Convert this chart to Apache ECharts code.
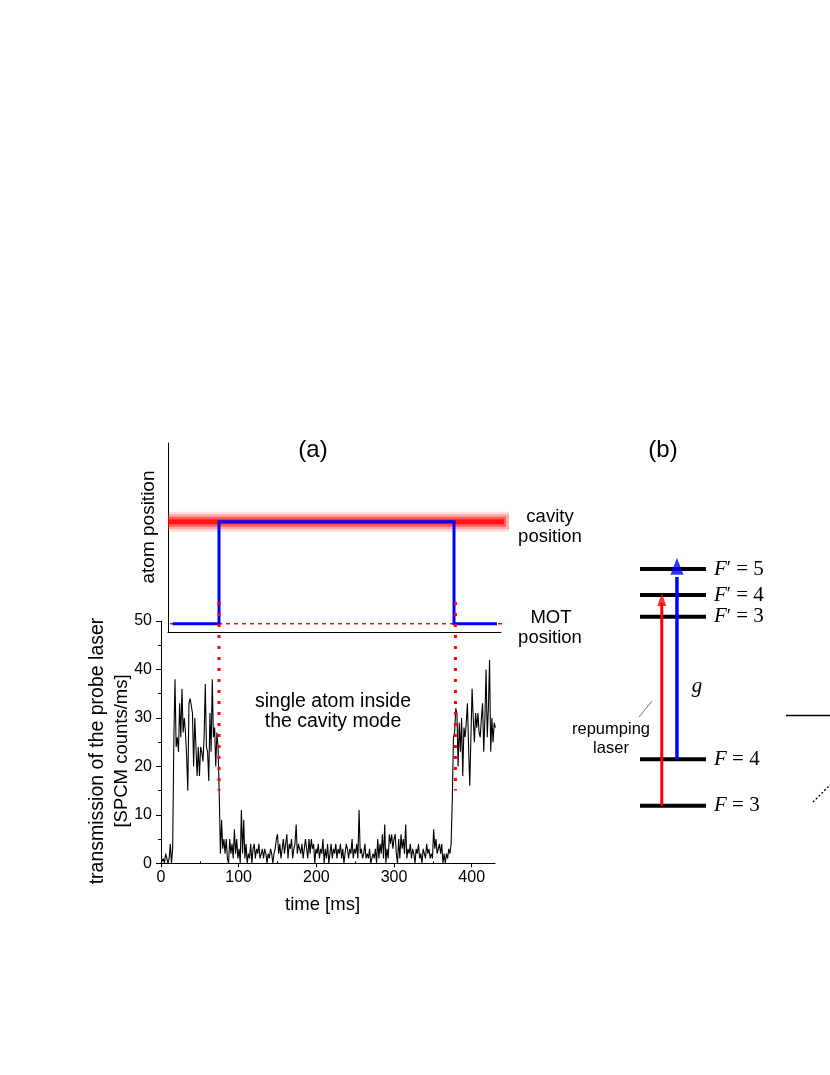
<!DOCTYPE html>
<html>
<head>
<meta charset="utf-8">
<script src="https://cdn.jsdelivr.net/npm/echarts@6/dist/echarts.min.js"></script>
<style>
html,body{margin:0;padding:0;background:#fff;}
#chart{width:830px;height:1075px;}
</style>
</head>
<body>
<div id="chart"></div>
<script>
// ---------- data ----------
// panel (a), lower plot: probe transmission sampled every timeStepMs
const timeStepMs = 1.5;
const counts = [
  0,0,1,0,2,1,0,1,4,0,
  3,25,38,24,26,23,33,26,36,27,
  30,27,22,15,33,34,34,31,20,30,
  24,18,24,18,24,23,21,26,37,24,
  23,17,31,23,38,26,28,20,27,24,
  14,2,9,3,5,2,5,1,0,5,
  2,4,1,7,2,5,1,3,0,11,
  2,9,1,4,0,2,1,4,0,3,
  4,1,3,2,4,1,2,3,1,3,
  2,0,2,1,3,2,0,2,3,5,
  6,2,4,1,3,5,2,4,6,1,
  4,3,5,1,3,4,8,2,4,3,
  2,4,1,3,5,3,1,5,2,5,
  3,4,0,3,2,4,1,3,2,5,
  0,3,1,4,0,2,4,1,3,2,
  4,1,3,2,4,1,3,0,2,4,
  3,1,3,2,5,1,3,2,4,1,
  11,2,3,1,2,4,1,2,1,3,
  0,1,2,1,3,0,5,1,4,2,
  6,1,8,0,3,1,6,4,6,3,
  5,6,2,0,5,1,6,3,5,2,
  8,1,3,2,4,1,3,2,0,3,
  2,4,1,2,0,3,2,1,4,2,
  3,1,2,1,7,3,5,2,3,4,
  2,4,0,2,0,2,1,3,2,4,
  13,26,27,32,31,20,29,23,30,18,
  28,26,29,33,24,16,26,36,30,25,
  31,28,31,27,26,30,33,23,30,40,
  26,32,42,23,30,25,29,28
];
const timeMax = 430;
const xMajorTicks = [0, 100, 200, 300, 400];
const xMinorTicks = [50, 150, 250, 350];
const yMax = 50, yStep = 10;

// panel (a), upper plot: atom position (0 = MOT position, 1 = cavity position)
const atomTimes = [15, 74.7, 74.7, 377.2, 377.2, 432.5];
const atomLevel = [0, 0, 1, 1, 0, 0];
const cavityBandTimes = [9, 448];
const motLineTimes = [1.3, 446.7];
const transitionTimes = [74.7, 379];
const transitionSpan = [53.9, 15];   // in transmission units

// panel (b): level scheme (schematic energies, arbitrary units)
const levelLabels = ['F = 3', 'F = 4', 'F′ = 3', 'F′ = 4', 'F′ = 5'];
const levelEnergy = [0, 46.4, 189, 210.7, 236.7];
// transitions: [from level index, to level index, horizontal position]
const repumpArrow = [0, 3, 0.33];
const probeArrow = [1, 4, 0.56];

// ---------- chart ----------
const SANS = '"Liberation Sans", Arial, sans-serif';
const SERIF = '"Liberation Serif", "DejaVu Serif", serif';
const chart = echarts.init(document.getElementById('chart'), null, {renderer: 'canvas'});

const series = [];

// transmission trace
series.push({
  type: 'line', xAxisIndex: 0, yAxisIndex: 0,
  data: counts.map((v, i) => [i * timeStepMs, v]),
  symbol: 'none', lineStyle: {color: '#000', width: 1.1}, z: 3, silent: true
});

// cavity band (red, blurred): layered strokes, soft edges
[[20, 'rgba(255,60,60,0.18)'], [15, 'rgba(255,40,40,0.28)'], [10, 'rgba(255,20,20,0.5)'], [5, 'rgba(255,0,0,0.75)']].forEach(s => {
  series.push({
    type: 'line', xAxisIndex: 1, yAxisIndex: 1, clip: false,
    data: cavityBandTimes.map(t => [t, 1]),
    symbol: 'none',
    lineStyle: {color: s[1], width: s[0], cap: 'butt'},
    z: 1, silent: true
  });
});
// MOT position dotted line
series.push({
  type: 'line', xAxisIndex: 1, yAxisIndex: 1, clip: false,
  data: motLineTimes.map(t => [t, 0]),
  symbol: 'none', lineStyle: {color: '#ff0000', width: 1.5, type: [4, 4]}, z: 2, silent: true
});
// atom position trace
series.push({
  type: 'line', xAxisIndex: 1, yAxisIndex: 1,
  data: atomTimes.map((t, i) => [t, atomLevel[i]]),
  symbol: 'none', lineStyle: {color: '#0000ff', width: 3, join: 'miter'}, z: 4, silent: true
});
// vertical transition markers
transitionTimes.forEach(t => {
  series.push({
    type: 'line', xAxisIndex: 0, yAxisIndex: 0, clip: false,
    data: transitionSpan.map(v => [t, v]),
    symbol: 'none', lineStyle: {color: '#ff0000', width: 3, type: [3, 8], cap: 'butt'}, z: 6, silent: true
  });
});

// level scheme
levelEnergy.forEach((e, i) => {
  const parts = levelLabels[i].split(' = ');
  const head = parts[0].replace('′', '');
  const primed = parts[0].indexOf('′') >= 0;
  series.push({
    type: 'line', xAxisIndex: 2, yAxisIndex: 2,
    data: [[0, e], [1, e]], symbol: 'none',
    lineStyle: {color: '#000', width: 4, cap: 'butt'}, z: 2, silent: true,
    endLabel: {
      show: true, distance: 8,
      formatter: '{i|' + head + '}' + (primed ? '{p|′}' : '') + '{n| = ' + parts[1] + '}',
      rich: {
        i: {fontFamily: SERIF, fontStyle: 'italic', fontSize: 21, color: '#000'},
        p: {fontFamily: SERIF, fontSize: 19, color: '#000'},
        n: {fontFamily: SERIF, fontSize: 21, color: '#000'}
      }
    }
  });
});

function arrowSeries(def, color, width, head) {
  const x = def[2];
  const e0 = levelEnergy[def[0]], e1 = levelEnergy[def[1]];
  series.push({
    type: 'line', xAxisIndex: 2, yAxisIndex: 2,
    data: [[x, e0], [x, e1 + head.shaftOffset]], symbol: 'none',
    lineStyle: {color: color, width: width, cap: 'butt'}, z: 3, silent: true
  });
  series.push({
    type: 'scatter', xAxisIndex: 2, yAxisIndex: 2,
    data: [[x, e1]], symbol: 'triangle', symbolSize: head.size, symbolOffset: [0, head.offset],
    itemStyle: {color: color}, z: 4, silent: true
  });
}
arrowSeries(repumpArrow, '#ff0000', 3, {size: [9, 13], offset: 4.5, shaftOffset: -8});
arrowSeries(probeArrow, '#0000ff', 3.5, {size: [13, 17], offset: -2.8, shaftOffset: -8});

function txt(x, y, text, size, opts) {
  opts = opts || {};
  return {
    type: 'text', x: x, y: y, rotation: opts.rot || 0, z: 50, silent: true,
    style: {
      text: text, fill: '#000',
      font: (opts.style || '') + ' ' + size + 'px ' + (opts.family || SANS),
      textAlign: opts.align || 'center', textVerticalAlign: 'middle',
      align: opts.align || 'center', verticalAlign: 'middle',
      lineHeight: opts.lh || size * 1.15
    }
  };
}

const graphics = [
  txt(313, 450, '(a)', 24),
  txt(663, 450, '(b)', 24),
  txt(149, 527, 'atom position', 19, {rot: Math.PI / 2}),
  txt(98, 751, 'transmission of the probe laser', 19.5, {rot: Math.PI / 2}),
  txt(122, 751, '[SPCM counts/ms]', 18.5, {rot: Math.PI / 2}),
  txt(322.5, 905, 'time [ms]', 18.5),
  txt(333, 701.5, 'single atom inside', 19.5),
  txt(333, 721.5, 'the cavity mode', 19.5),
  txt(550, 517, 'cavity', 18.5),
  txt(550, 537, 'position', 18.5),
  txt(551, 618, 'MOT', 18.5),
  txt(550, 638, 'position', 18.5),
  txt(611, 729, 'repumping', 16.5),
  txt(611, 748, 'laser', 16.5),
  txt(697, 686, 'g', 21, {style: 'italic', family: SERIF}),
  {type: 'line', silent: true, shape: {x1: 639, y1: 717, x2: 652, y2: 701}, style: {stroke: '#555', lineWidth: 0.8}},
  {type: 'line', silent: true, shape: {x1: 786, y1: 715.5, x2: 832, y2: 715.5}, style: {stroke: '#000', lineWidth: 1.5}},
  {type: 'line', silent: true, shape: {x1: 813, y1: 802, x2: 832, y2: 783}, style: {stroke: '#000', lineWidth: 1.3, lineDash: [2, 2]}}
];

const axisBlack = {color: '#000', width: 1};
const option = {
  backgroundColor: '#fff',
  animation: false,
  grid: [
    {left: 161, top: 621, width: 334, height: 242.3},
    {left: 168, top: 443, width: 333, height: 189},
    {left: 640, top: 540, width: 66, height: 280}
  ],
  xAxis: [
    {gridIndex: 0, type: 'value', min: 0, max: timeMax, interval: 100,
     axisLine: {show: true, onZero: false, lineStyle: axisBlack},
     axisTick: {show: true, length: 4, inside: false, lineStyle: axisBlack, customValues: xMajorTicks},
     axisLabel: {show: true, color: '#000', fontSize: 16, fontFamily: SANS, margin: 6, customValues: xMajorTicks},
     splitLine: {show: false}},
    {gridIndex: 1, type: 'value', min: 9.01, max: 437.7,
     axisLine: {show: true, onZero: false, lineStyle: axisBlack},
     axisTick: {show: false}, axisLabel: {show: false}, splitLine: {show: false}},
    {gridIndex: 2, type: 'value', min: 0, max: 1, show: false},
    {gridIndex: 0, type: 'value', min: 0, max: timeMax, interval: 50,
     axisLine: {show: false},
     axisTick: {show: true, length: 2, inside: false, lineStyle: axisBlack, customValues: xMinorTicks},
     axisLabel: {show: false}, splitLine: {show: false}}
  ],
  yAxis: [
    {gridIndex: 0, type: 'value', min: 0, max: yMax, interval: yStep,
     axisLine: {show: true, onZero: false, lineStyle: axisBlack},
     axisTick: {show: true, length: 5, inside: false, lineStyle: axisBlack},
     minorTick: {show: true, splitNumber: 2, length: 3, lineStyle: axisBlack},
     axisLabel: {color: '#000', fontSize: 16, fontFamily: SANS, margin: 9},
     splitLine: {show: false}, minorSplitLine: {show: false}},
    {gridIndex: 1, type: 'value', min: -0.0815, max: 1.773,
     axisLine: {show: true, onZero: false, lineStyle: axisBlack},
     axisTick: {show: false}, axisLabel: {show: false}, splitLine: {show: false}},
    {gridIndex: 2, type: 'value', min: -14.3, max: 265.7, show: false}
  ],
  series: series,
  graphic: graphics
};
chart.setOption(option);
</script>
</body>
</html>
